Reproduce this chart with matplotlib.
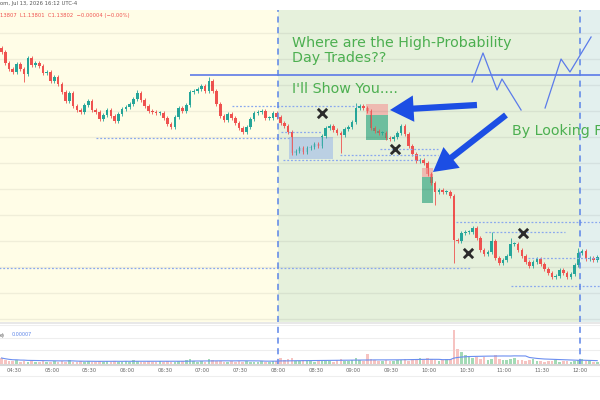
import numpy as np
import matplotlib.pyplot as plt
from matplotlib.patches import Rectangle

# 3-minute candles from 04:20, closes
start_min = 260
bar_min = 3
first_open = 1.14170
closes = [
    1.14162, 1.14140, 1.14128, 1.14122, 1.14138, 1.14128, 1.14118, 1.14150, 1.14136, 1.14140,
    1.14134, 1.14120, 1.14122, 1.14104, 1.14112, 1.14098, 1.14082, 1.14064, 1.14080, 1.14054,
    1.14046, 1.14042, 1.14056, 1.14064, 1.14046, 1.14042, 1.14028, 1.14036, 1.14046, 1.14034,
    1.14024, 1.14038, 1.14048, 1.14052, 1.14058, 1.14068, 1.14080, 1.14066, 1.14054, 1.14044,
    1.14042, 1.14040, 1.14040, 1.14030, 1.14018, 1.14012, 1.14032, 1.14050, 1.14044, 1.14056,
    1.14082, 1.14084, 1.14088, 1.14094, 1.14084, 1.14104, 1.14084, 1.14058, 1.14034, 1.14026,
    1.14038, 1.14030, 1.14020, 1.14010, 1.14002, 1.14012, 1.14028, 1.14040, 1.14042, 1.14044,
    1.14030, 1.14030, 1.14040, 1.14032, 1.14020, 1.14014, 1.14002, 1.13960, 1.13964, 1.13970,
    1.13962, 1.13970, 1.13972, 1.13978, 1.13974, 1.13994, 1.14010, 1.14014, 1.14006, 1.14000,
    1.13996, 1.14008, 1.14012, 1.14022, 1.14050, 1.14054, 1.14050, 1.14044, 1.14010, 1.14004,
    1.14000, 1.14000, 1.13990, 1.13988, 1.13992, 1.14000, 1.14014, 1.13998, 1.13974, 1.13958,
    1.13944, 1.13946, 1.13940, 1.13918, 1.13900, 1.13882, 1.13886, 1.13882, 1.13882, 1.13874,
    1.13786, 1.13784, 1.13800, 1.13802, 1.13802, 1.13810, 1.13790, 1.13766, 1.13758, 1.13762,
    1.13784, 1.13750, 1.13740, 1.13746, 1.13754, 1.13778, 1.13778, 1.13766, 1.13754, 1.13742,
    1.13734, 1.13742, 1.13748, 1.13738, 1.13728, 1.13720, 1.13712, 1.13714, 1.13726, 1.13720,
    1.13712, 1.13718, 1.13736, 1.13760, 1.13764, 1.13748, 1.13750, 1.13746, 1.13752,
]
# a few long wicks that stick out
wick_idx = [6, 36, 55, 90, 94, 115, 120, 130, 135, 153]
wick_val = [1.14102, 1.14086, 1.14112, 1.13960, 1.14060, 1.13856, 1.13740, 1.13802, 1.13790, 1.13770]

volume = [
    140, 110, 90, 80, 100, 70, 90, 60, 80, 70,
    60, 90, 70, 60, 80, 70, 90, 60, 100, 70,
    60, 80, 70, 90, 60, 70, 80, 60, 90, 70,
    80, 60, 70, 90, 60, 100, 80, 60, 70, 80,
    60, 70, 90, 60, 80, 70, 60, 90, 80, 100,
    130, 90, 70, 80, 60, 120, 110, 90, 80, 70,
    60, 80, 70, 90, 60, 80, 70, 60, 70, 80,
    60, 70, 80, 90, 150, 110, 130, 140, 90, 80,
    100, 80, 90, 70, 80, 110, 90, 80, 70, 100,
    120, 80, 90, 100, 150, 110, 90, 220, 120, 100,
    90, 80, 100, 90, 80, 110, 100, 120, 90, 130,
    110, 140, 100, 150, 130, 110, 90, 100, 120, 120,
    700, 330, 260, 200, 180, 150, 160, 120, 170, 110,
    130, 200, 120, 110, 100, 120, 150, 100, 110, 90,
    100, 120, 90, 80, 70, 90, 80, 100, 70, 80,
    90, 70, 80, 100, 130, 90, 80, 70, 60,
]

time_ticks = ["04:30", "05:00", "05:30", "06:00", "06:30", "07:00", "07:30", "08:00",
              "08:30", "09:00", "09:30", "10:00", "10:30", "11:00", "11:30", "12:00"]
sessions = [480, 720]  # 08:00 and 12:00

# drawings (time in minutes, price)
res_line = (410, 1.14116)
dotted = [
    (443, 543, 1.14054), (335, 490, 1.13990), (482, 515, 1.14002),
    (484, 593, 1.13946), (529, 607, 1.13956), (561, 607, 1.13968),
    (258, 633, 1.13730), (622, 740, 1.13822), (645, 708, 1.13802),
    (679, 740, 1.13750), (665, 740, 1.13694),
]
crosses_t = [515.0, 573.1, 631.2, 674.9]
crosses_p = [1.14040, 1.13968, 1.13760, 1.13800]
zig1_t = [634.4, 643.1, 654.3, 658.2, 673.4]
zig1_p = [1.14102, 1.14160, 1.14086, 1.14108, 1.14046]
zig2_t = [692.5, 705.2, 712.3, 729.1]
zig2_p = [1.14050, 1.14148, 1.14122, 1.14192]

closes = np.array(closes)
opens = np.concatenate([[first_open], closes[:-1]])
t = start_min + bar_min * np.arange(len(closes))
highs = np.maximum(opens, closes) + 0.00004
lows = np.minimum(opens, closes) - 0.00004
for i, v in zip(wick_idx, wick_val):
    if v > max(opens[i], closes[i]):
        highs[i] = v
    else:
        lows[i] = v
up = closes >= opens
col = np.where(up, '#26a69a', '#ef5350')

x0, x1 = 258.8, 736.2
fig = plt.figure(figsize=(6, 4), dpi=100)
ax = fig.add_axes([0, 78 / 400, 1, 312 / 400])
axv = fig.add_axes([0, 35 / 400, 1, 42 / 400])

# session backgrounds
ax.axvspan(x0, sessions[0], color='#fffde7', lw=0)
ax.axvspan(sessions[0], sessions[1], color='#e6f1dc', lw=0)
ax.axvspan(sessions[1], x1, color='#e3f0ee', lw=0)
for gy in 1.14200 - 0.00052 * np.arange(12):
    ax.axhline(gy, color='#000000', alpha=0.06, lw=1)

# candles
ax.vlines(t, lows, highs, colors=col, lw=0.6)
body = np.maximum(np.abs(closes - opens), 0.000015)
ax.bar(t, body, bottom=np.minimum(opens, closes), width=2.1, color=col, lw=0)

# drawings
ax.hlines(res_line[1], res_line[0], x1, color='#4f6fe8', lw=1.1)
for a, b, p in dotted:
    ax.hlines(p, a, b, color='#8aa8ee', lw=0.9, linestyles=(0, (1.5, 1.5)))
ax.add_patch(Rectangle((488.8, 1.13948), 35, 0.00044, color='#b4cbe5', alpha=0.85, lw=0))
ax.add_patch(Rectangle((550.0, 1.14036), 17.5, 0.00022, color='#f2a3a0', alpha=0.7, lw=0))
ax.add_patch(Rectangle((550.0, 1.13986), 17.5, 0.00050, color='#3aa984', alpha=0.7, lw=0))
ax.add_patch(Rectangle((594.6, 1.13912), 8.7, 0.00018, color='#f2a3a0', alpha=0.7, lw=0))
ax.add_patch(Rectangle((594.6, 1.13860), 8.7, 0.00052, color='#3aa984', alpha=0.7, lw=0))
ax.scatter(crosses_t, crosses_p, marker='x', s=45, color='#2b2b2b', lw=2, zorder=5)
ax.plot(zig1_t, zig1_p, color='#5b7bea', lw=0.9)
ax.plot(zig2_t, zig2_p, color='#5b7bea', lw=0.9)
arr = dict(arrowstyle='simple,head_length=1.7,head_width=1.9,tail_width=0.45',
           color='#1c4ee4', lw=0, shrinkA=0, shrinkB=0)
ax.annotate('', xy=(569.1, 1.14046), xytext=(638.3, 1.14056), arrowprops=arr)
ax.annotate('', xy=(603.3, 1.13922), xytext=(661.4, 1.14036), arrowprops=arr)

green = '#4caf50'
ax.text(491.1, 1.14180, 'Where are the High-Probability', color=green, fontsize=10.3, va='center')
ax.text(491.1, 1.14150, 'Day Trades??', color=green, fontsize=10.3, va='center')
ax.text(491.1, 1.14088, "I'll Show You....", color=green, fontsize=10.3, va='center')
ax.text(666.2, 1.14004, 'By Looking For...', color=green, fontsize=10.3, va='center')

for a in (ax, axv):
    for s in sessions:
        a.axvline(s, color='#5b84e8', lw=1.1, ls=(0, (4, 3)))
    a.set_xlim(x0, x1)

ax.set_ylim(1.13622, 1.14246)
ax.set_xticks([])
ax.set_yticks([])
for sp in ax.spines.values():
    sp.set_visible(False)

# volume pane
vol = np.array(volume)
vcol = np.where(up, '#a3dab5', '#f6c3c1')
axv.bar(t, vol, width=2.1, color=vcol, lw=0)
ma = np.convolve(vol, np.ones(20) / 20, mode='full')[:len(vol)]
ma[:19] = [vol[:i + 1].mean() for i in range(19)]
axv.plot(t, ma, color='#6b8ef0', lw=0.8)
axv.set_ylim(0, 840)
axv.set_yticks([300, 550, 800])
axv.yaxis.grid(True, color='#eeeeee', lw=0.8)
axv.set_axisbelow(True)
axv.tick_params(axis='y', length=0, labelleft=False)
axv.set_xticks(np.arange(270, 721, 30))
axv.set_xticklabels(time_ticks, fontsize=3.8, color='#666666')
axv.tick_params(axis='x', length=0, pad=2.5)
for k in ('left', 'right'):
    axv.spines[k].set_visible(False)
axv.spines['top'].set_color('#e4e4e4')
axv.spines['top'].set_linewidth(1.2)
axv.spines['bottom'].set_color('#d6d6d6')
axv.spines['bottom'].set_linewidth(1.5)
fig.add_artist(plt.Line2D([0, 1], [1 - 376 / 400] * 2, color='#eeeeee', lw=0.8))

fig.text(0.0, 1 - 4 / 400, 'om, Jul 13, 2026 16:12 UTC-4', fontsize=3.8, color='#555555', va='center')
fig.text(0.0, 1 - 16 / 400, '13807  L1.13801  C1.13802  \u22120.00004 (\u22120.00%)',
         fontsize=3.8, color='#ef5350', va='center')
fig.text(0.0, 1 - 335 / 400, 'e)', fontsize=3.5, color='#555555', va='center')
fig.text(12 / 600, 1 - 335 / 400, '0.00007', fontsize=3.5, color='#5b84e8', va='center')

fig.savefig('out.png', dpi=100)
